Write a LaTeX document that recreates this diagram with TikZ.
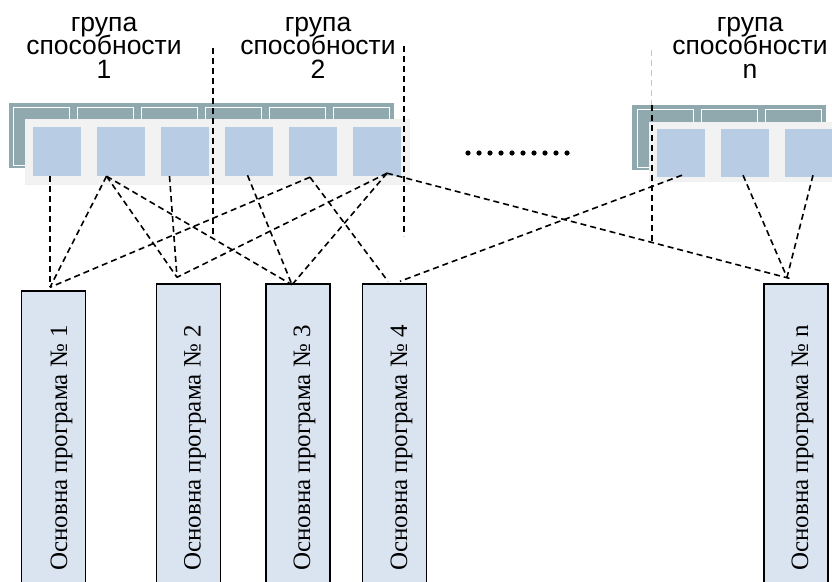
\documentclass[tikz,border=0pt]{standalone}
\usepackage{fontspec}
\setmainfont{Liberation Serif}
\newfontfamily\headfont{Liberation Sans}

\definecolor{backteal}{RGB}{143,169,175}
\definecolor{frontgrey}{RGB}{242,242,242}
\definecolor{skillblue}{RGB}{184,204,228}
\definecolor{progblue}{RGB}{218,227,240}

\newcommand\titlefont{\headfont\fontsize{26.5}{23.3}\selectfont\lineskiplimit -30pt\relax}
\newcommand\progfont{\fontsize{25}{30}\selectfont}

\begin{document}
\begin{tikzpicture}[x=1pt,y=-1pt,
  backbar/.style={shape=rectangle,fill=backteal,inner sep=0pt,minimum height=65pt},
  backcell/.style={shape=rectangle,draw=white,line width=0.6pt,inner sep=0pt,minimum width=56pt,minimum height=58pt},
  frontcell/.style={shape=rectangle,fill=frontgrey,draw=black!6,line width=0.5pt,inner sep=0pt,minimum width=64pt,minimum height=65pt},
  skill/.style={shape=rectangle,fill=skillblue,inner sep=0pt,minimum width=48pt,minimum height=49pt},
  grouptitle/.style={align=center,inner sep=0pt,anchor=north,font=\titlefont},
  prog/.style={shape=rectangle,draw=black,fill=progblue,line width=1.4pt,inner sep=0pt,minimum width=64pt},
  proglabel/.style={rotate=90,anchor=base,inner sep=0pt,font=\progfont},
  link/.style={draw=black,line width=1.6pt,dash pattern=on 6pt off 4pt},
  divider/.style={draw=black,line width=1.6pt,dash pattern=on 6pt off 4pt}]
\useasboundingbox (0,0) rectangle (832,581);
\clip (0,0) rectangle (832,581);

% group titles
\node[grouptitle] (g1) at (104,17) {група\\способности\\1};
\node[grouptitle] (g2) at (318,17) {група\\способности\\2};
\node[grouptitle] (gn) at (750,17) {група\\способности\\n};

% left block, groups 1 and 2
\node[backbar,minimum width=385pt] (back1) at (201.5,135.5) {};
\node[backcell] (o1) at (41,136.5) {};
\node[backcell] (o2) at (105,136.5) {};
\node[backcell] (o3) at (169,136.5) {};
\node[backcell] (o4) at (233,136.5) {};
\node[backcell] (o5) at (297,136.5) {};
\node[backcell] (o6) at (361,136.5) {};
\node[frontcell] (f1) at (57,151.5) {};
\node[frontcell] (f2) at (121,151.5) {};
\node[frontcell] (f3) at (185,151.5) {};
\node[frontcell] (f4) at (249,151.5) {};
\node[frontcell] (f5) at (313,151.5) {};
\node[frontcell] (f6) at (377,151.5) {};
\node[skill] (s1) at (57,151.5) {};
\node[skill] (s2) at (121,151.5) {};
\node[skill] (s3) at (185,151.5) {};
\node[skill] (s4) at (249,151.5) {};
\node[skill] (s5) at (313,151.5) {};
\node[skill] (s6) at (377,151.5) {};

% right block, group n
\node[backbar,minimum width=194pt] (backn) at (729,137.5) {};
\node[backcell] (on1) at (665,138.5) {};
\node[backcell] (on2) at (729,138.5) {};
\node[backcell] (on3) at (793,138.5) {};
\node[frontcell,minimum height=59pt] (fn1) at (681,151.5) {};
\node[frontcell,minimum height=59pt] (fn2) at (745,151.5) {};
\node[frontcell,minimum height=59pt] (fn3) at (809,151.5) {};
\node[skill,minimum height=48pt] (r1) at (681,153) {};
\node[skill,minimum height=48pt] (r2) at (745,153) {};
\node[skill,minimum height=48pt] (r3) at (809,153) {};

% dots between the blocks
\fill (468,153) circle (2.6) (479,153) circle (2.6) (490,153) circle (2.6)
  (501,153) circle (2.6) (512,153) circle (2.6) (523,153) circle (2.6)
  (534,153) circle (2.6) (545,153) circle (2.6) (556,153) circle (2.6)
  (567,153) circle (2.6);

% main programmes
\node[prog,minimum height=314pt] (b1) at (53.5,448) {};
\node[prog,minimum height=321pt] (b2) at (188.5,444.5) {};
\node[prog,minimum height=321pt] (b3) at (298,444.5) {};
\node[prog,minimum height=321pt] (b4) at (394.5,444.5) {};
\node[prog,minimum height=321pt] (bn) at (796,444.5) {};
\node[proglabel] (l1) at (67,448) {Основна програма №~1};
\node[proglabel] (l2) at (200.5,448) {Основна програма №~2};
\node[proglabel] (l3) at (310,448) {Основна програма №~3};
\node[proglabel] (l4) at (407,448) {Основна програма №~4};
\node[proglabel] (ln) at (808,448) {Основна програма №~n};

% group borders
\coordinate (d1t) at (213,48);
\coordinate (d1b) at (213,238);
\coordinate (d2t) at (404,46);
\coordinate (d2b) at (404,236);
\coordinate (d3t) at (652,50);
\coordinate (d3m) at (652,105);
\coordinate (d3b) at (652,241);
\draw[divider] (d1t) -- (d1b);
\draw[divider] (d2t) -- (d2b);
\draw[draw=gray!45,line width=0.4pt,double=white,double distance=0.8pt,dash pattern=on 6pt off 4pt] (d3t) -- (d3m);
\draw[divider] (d3m) -- (d3b);

% links between skills and programmes
\path [link] ([xshift=-7pt]s1.south) edge ([xshift=-3.5pt,yshift=3pt]b1.north);
\path [link] ([xshift=-14.5pt]s2.south) edge ([xshift=-3.5pt,yshift=3pt]b1.north);
\path [link] ([xshift=-3pt,yshift=-1pt]s5.south) edge ([xshift=-3.5pt,yshift=3pt]b1.north);
\path [link] ([xshift=-14.5pt]s2.south) edge ([xshift=-11.5pt,yshift=6pt]b2.north);
\path [link] ([xshift=-15.5pt]s3.south) edge ([xshift=-11.5pt,yshift=6pt]b2.north);
\path [link] ([xshift=10pt,yshift=3pt]s6.south) edge ([xshift=-11.5pt,yshift=6pt]b2.north);
\path [link] ([xshift=-14.5pt]s2.south) edge ([xshift=-6pt,yshift=-1.5pt]b3.north);
\path [link] ([xshift=-1.5pt,yshift=1pt]s4.south) edge ([xshift=-6pt,yshift=-1.5pt]b3.north);
\path [link] ([xshift=10pt,yshift=3pt]s6.south) edge ([xshift=-6pt,yshift=-1.5pt]b3.north);
\path [link] ([xshift=-3pt,yshift=-1pt]s5.south) edge ([xshift=-6.5pt,yshift=2pt]b4.north);
\path [link] ([xshift=1pt,yshift=2pt]r1.south) edge ([xshift=5.5pt,yshift=2pt]b4.north);
\path [link] ([xshift=10pt,yshift=3pt]s6.south) edge ([xshift=-3pt,yshift=4pt]bn.north);
\path [link] ([xshift=-2pt,yshift=2pt]r2.south) edge ([xshift=-9pt,yshift=6pt]bn.north);
\path [link] ([xshift=4pt,yshift=2pt]r3.south) edge ([xshift=-9pt,yshift=6pt]bn.north);
\end{tikzpicture}
\end{document}
